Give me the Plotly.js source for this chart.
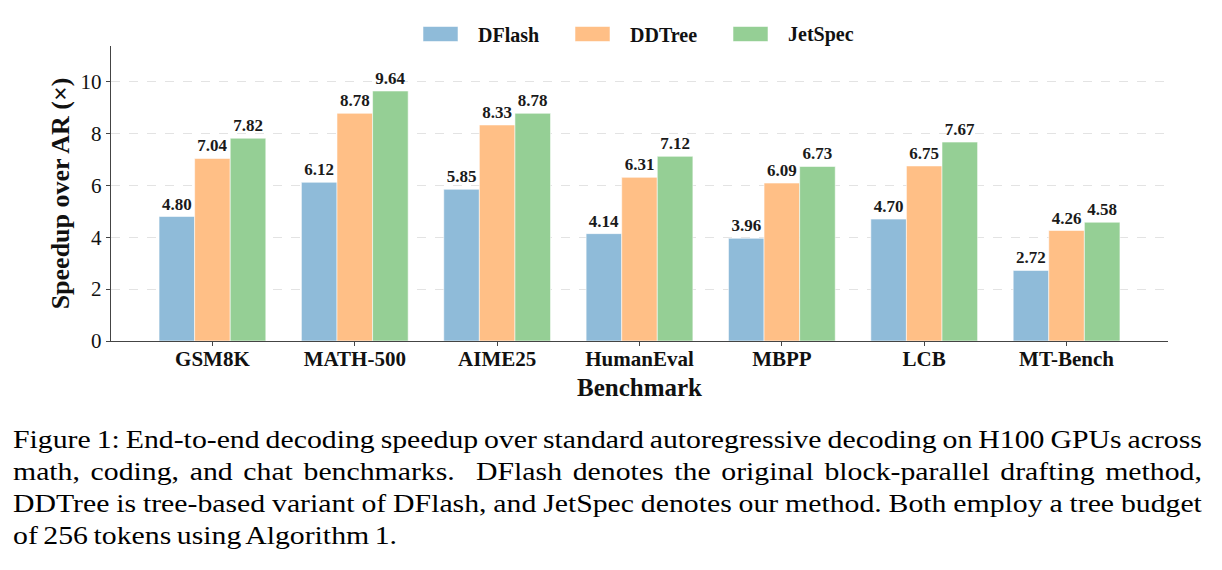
<!DOCTYPE html>
<html>
<head>
<meta charset="utf-8">
<script src="https://cdn.plot.ly/plotly-3.0.1.min.js"></script>
<style>
  html, body { margin: 0; padding: 0; background: #fff; }
  #wrap { position: relative; width: 1222px; height: 570px; overflow: hidden; }
  #chart { position: absolute; left: 0; top: 0; width: 1222px; height: 570px; }
  #caption {
    position: absolute; left: 13px; top: 423.6px; width: 1019px;
    transform: scaleX(1.1667); transform-origin: 0 0;
    font-family: "Liberation Serif", "Times New Roman", serif;
    font-size: 25.5px; line-height: 32.2px; color: #000;
    word-spacing: -1.6px;
  }
  #caption .j { text-align: justify; text-align-last: justify; white-space: nowrap; }
  #caption .l { text-align: left; white-space: nowrap; }
</style>
</head>
<body>
<div id="wrap">
  <div id="chart"></div>
  <div id="caption">
    <div class="j">Figure 1: End-to-end decoding speedup over standard autoregressive decoding on H100 GPUs across</div>
    <div class="j">math, coding, and chat benchmarks.&nbsp; DFlash denotes the original block-parallel drafting method,</div>
    <div class="j">DDTree is tree-based variant of DFlash, and JetSpec denotes our method. Both employ a tree budget</div>
    <div class="l">of 256 tokens using Algorithm 1.</div>
  </div>
</div>
<script>
// Benchmarks on the x axis
const benchmarks = ["GSM8K", "MATH-500", "AIME25", "HumanEval", "MBPP", "LCB", "MT-Bench"];

// Speedup over autoregressive decoding for each method
const dflash  = [4.80, 6.12, 5.85, 4.14, 3.96, 4.70, 2.72];
const ddtree  = [7.04, 8.78, 8.33, 6.31, 6.09, 6.75, 4.26];
const jetspec = [7.82, 9.64, 8.78, 7.12, 6.73, 7.67, 4.58];

const seriesNames = ["DFlash", "DDTree", "JetSpec"];
const seriesValues = [dflash, ddtree, jetspec];
const seriesColors = ["#8fbbd9", "#ffbf86", "#95cf95"];

const yTicks = [0, 2, 4, 6, 8, 10];

const SERIF = '"Liberation Serif", "Times New Roman", serif';

// Plot-area geometry in pixels
const W = 1222, H = 570;
const M = { l: 111, r: 54, t: 46, b: 229.3 };
const plotW = W - M.l - M.r, plotH = H - M.t - M.b;
const toPaperX = px => (px - M.l) / plotW;
const toPaperY = py => (H - M.b - py) / plotH;

const yMax = Math.max(...jetspec, ...ddtree, ...dflash) * 1.18;
const nCat = benchmarks.length;

const traces = seriesNames.map((name, i) => ({
  type: "bar",
  name: name,
  x: benchmarks,
  y: seriesValues[i],
  marker: { color: seriesColors[i], line: { color: "rgba(255,255,255,0.55)", width: 1 } },
  text: seriesValues[i].map(v => v.toFixed(2)),
  texttemplate: "<b>%{text}</b>",
  textposition: "outside",
  textfont: { family: SERIF, size: 17, color: "#1a1a1a" },
  constraintext: "none",
  cliponaxis: false,
  hoverinfo: "skip",
  showlegend: false
}));

// Legend drawn as swatches + labels above the plot
const legendShapes = [];
const legendAnns = [];
const legendSwatchLeft = [423, 575, 733];
seriesNames.forEach((name, i) => {
  const x0 = legendSwatchLeft[i];
  legendShapes.push({
    type: "rect", xref: "paper", yref: "paper",
    x0: toPaperX(x0), x1: toPaperX(x0 + 35),
    y0: toPaperY(41.5), y1: toPaperY(26.5),
    fillcolor: seriesColors[i], line: { color: "rgba(255,255,255,0.55)", width: 1 }
  });
  legendAnns.push({
    xref: "paper", yref: "paper",
    x: toPaperX(x0 + 53), y: toPaperY(35),
    xanchor: "left", yanchor: "middle",
    text: "<b>" + name + "</b>", showarrow: false,
    font: { family: SERIF, size: 20, color: "#111" }
  });
});

const layout = {
  width: W, height: H,
  margin: M,
  paper_bgcolor: "rgba(0,0,0,0)",
  plot_bgcolor: "#fff",
  barmode: "group",
  bargap: 0.25,
  bargroupgap: 0,
  showlegend: false,
  font: { family: SERIF, color: "#111" },
  xaxis: {
    type: "category",
    range: [-0.7125, nCat - 1 + 0.7125],
    showline: true, linecolor: "#444", linewidth: 1.2,
    ticks: "outside", ticklen: 4, tickwidth: 1, tickcolor: "#444",
    ticklabelstandoff: -5,
    tickfont: { family: SERIF, size: 21, color: "#111", weight: "bold" },
    showgrid: false, zeroline: false,
    title: { text: "<b>Benchmark</b>", font: { family: SERIF, size: 25, color: "#111" }, standoff: 8 }
  },
  yaxis: {
    range: [0, yMax],
    tickvals: yTicks,
    ticktext: yTicks.map(String),
    showline: true, linecolor: "#444", linewidth: 1.2,
    ticks: "outside", ticklen: 4, tickwidth: 1, tickcolor: "#444",
    tickfont: { family: SERIF, size: 21, color: "#111" },
    showgrid: true, gridcolor: "#dcdcdc", gridwidth: 0.8, griddash: "dash",
    zeroline: false,
    title: { text: "<b>Speedup over AR (×)</b>", font: { family: SERIF, size: 26, color: "#111" }, standoff: 3 }
  },
  shapes: legendShapes,
  annotations: legendAnns
};

Plotly.newPlot("chart", traces, layout, { displayModeBar: false, staticPlot: true });
</script>
</body>
</html>
